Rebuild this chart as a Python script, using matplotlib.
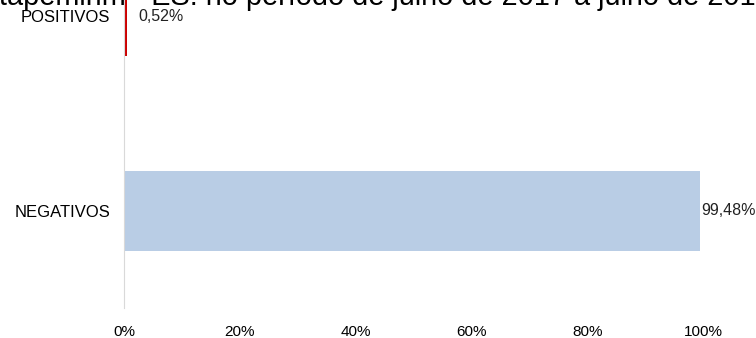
import matplotlib
matplotlib.use("Agg")
import matplotlib.pyplot as plt

plt.rcParams['font.family'] = ['Liberation Sans', 'DejaVu Sans']

categories = ["NEGATIVOS", "POSITIVOS"]
values = [99.48, 0.52]
value_labels = ["99,48%", "0,52%"]
bar_colors = ["#b9cde5", "#cc0000"]
xticks = [0, 20, 40, 60, 80, 100]
xtick_labels = ["0%", "20%", "40%", "60%", "80%", "100%"]
title = "Itapemirim - ES: no período de julho de 2017 a julho de 2018"

fig = plt.figure(figsize=(7.56, 3.38), dpi=100)
ax = fig.add_axes([0.164, 0.0888, 0.766, 1.1509])

ypos = list(range(len(categories)))
ax.barh(ypos, values, height=0.41, color=bar_colors)
ax.set_ylim(-0.5, 1.5)
ax.set_xlim(0, 100)

# value labels right of each bar
for y, v, lab in zip(ypos, values, value_labels):
    ax.text(v + 0.2 if v > 50 else v + 2.0, y, lab, va='center', ha='left',
            fontsize=11.5, color='#222222')

ax.set_yticks(ypos)
ax.set_yticklabels(categories, fontsize=12)
ax.set_xticks(xticks)
ax.set_xticklabels(xtick_labels, fontsize=11)
ax.tick_params(axis='both', length=0)
ax.tick_params(axis='x', pad=12)
ax.tick_params(axis='y', pad=10)

for s in ['top', 'right', 'bottom']:
    ax.spines[s].set_visible(False)
ax.spines['left'].set_color('#d9d9d9')
ax.spines['left'].set_linewidth(0.8)

# title is cut off at the top edge, as in the source image
fig.text(-0.012, 0.985, title, fontsize=20.8, ha='left', va='baseline', color='black')

fig.savefig("out.png", dpi=100)
